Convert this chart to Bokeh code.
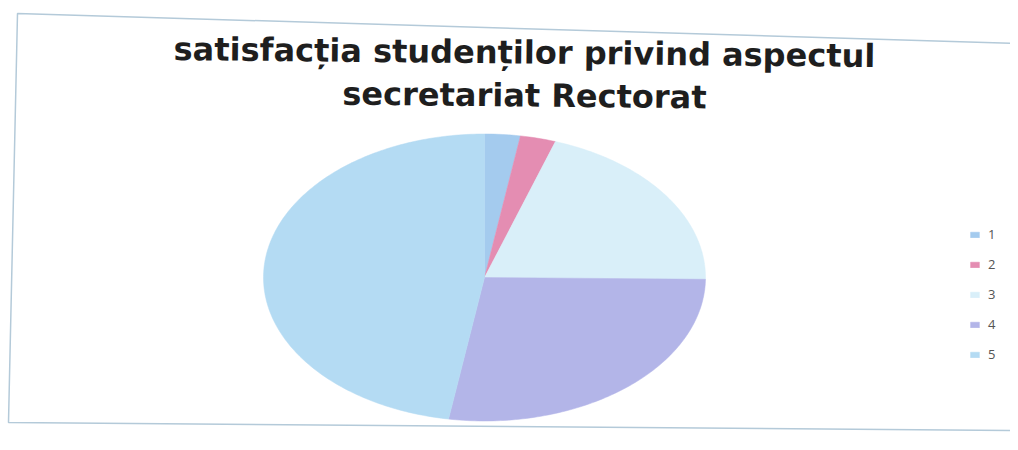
import numpy as np
from bokeh.plotting import figure
from bokeh.models import Range1d, Legend, LegendItem, ColumnDataSource
from bokeh.core.properties import value
from bokeh.embed import file_html
from bokeh.resources import INLINE

# ---- data ----
categories = ["1", "2", "3", "4", "5"]
values = [2.6, 2.6, 20.0, 27.4, 47.4]
colors = ["#a4cbee", "#e48db2", "#d9eff9", "#b3b5e8", "#b4dbf3"]
title_lines = ["satisfacția studenților privind aspectul", "secretariat Rectorat"]

W, H = 1010, 434
p = figure(width=W, height=H, output_backend="svg", toolbar_location=None,
           x_range=Range1d(0, W), y_range=Range1d(H, 0),
           x_axis_type=None, y_axis_type=None, min_border=0)
p.grid.visible = False
p.outline_line_color = None
p.background_fill_color = "white"
p.border_fill_color = "white"

# chart area border (scanned, slightly skewed)
p.line(x=[1018, 17, 8, 1018], y=[43, 13, 422, 430], line_color="#b4cad9", line_width=1.5)

# pie drawn as an ellipse (perspective)
cx, cy, rx, ry = 484, 277, 221, 143.5
total = float(sum(values))
start = 0.0
items = []
for cat, v, c in zip(categories, values, colors):
    a0 = start / total * 2 * np.pi
    a1 = (start + v) / total * 2 * np.pi
    start += v
    t = np.linspace(a0, a1, max(3, int((a1 - a0) * 60)))
    xs = [cx] + list(cx + rx * np.sin(t))
    ys = [cy] + list(cy - ry * np.cos(t))
    src = ColumnDataSource(dict(x=xs, y=ys))
    r = p.patch("x", "y", source=src, fill_color=c, line_color=c, line_width=0.5)
    items.append(LegendItem(label=cat, renderers=[r]))

legend = Legend(items=items, location=(969, 70), glyph_width=11, glyph_height=7,
                label_height=20, spacing=10, padding=0, margin=0,
                border_line_color=None, background_fill_alpha=0,
                label_text_font_size="13px", label_text_color="#555555",
                label_text_font="Open Sans", label_standoff=8)
p.add_layout(legend)

# title
tsrc = ColumnDataSource(dict(x=[524, 524], y=[52, 95], text=title_lines))
p.text(x="x", y="y", text="text", source=tsrc, text_align="center",
       text_baseline="middle", text_font=value("DejaVu Sans"), text_font_style="bold",
       text_font_size="32px", text_color="#1e1e1e", angle=-0.01)

open("out.html", "w").write(file_html(p, INLINE))
